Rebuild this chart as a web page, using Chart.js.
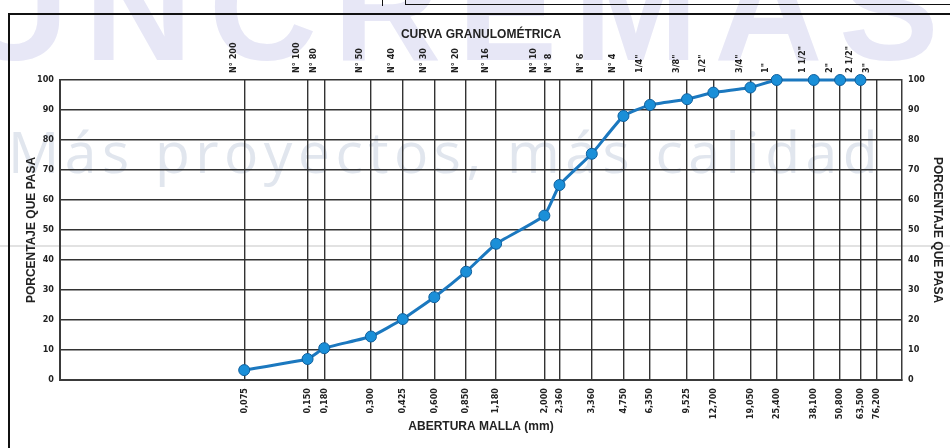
<!DOCTYPE html>
<html>
<head>
<meta charset="utf-8">
<script src="https://cdn.jsdelivr.net/npm/chart.js@4.4.1/dist/chart.umd.min.js"></script>
<style>
  html, body { margin: 0; padding: 0; background: #ffffff; }
  #wrap { position: relative; width: 950px; height: 448px; overflow: hidden; background: #fff; }
  .wm1 { position: absolute; left: -40px; top: -78px; font: 900 150px 'Liberation Sans', Arial, sans-serif; letter-spacing: 16px; color: #e7e7f6; white-space: nowrap; }
  .wm2 { position: absolute; left: 8px; top: 112px; font: 400 57px 'Open Sans', 'Liberation Sans', sans-serif; color: #e1e6ee; white-space: nowrap; letter-spacing: 5.5px; }
  .ln { position: absolute; background: #111; }
  canvas { position: absolute; left: 0; top: 0; }
</style>
</head>
<body>
<div id="wrap">
  <div class="wm1">UNCREMAS</div>
  <div class="wm2">Más proyectos, más calidad</div>
  <div class="ln" style="left:0;top:245px;width:950px;height:2px;background:#e2e2e2"></div>
  <div class="ln" style="left:8px;top:13px;width:942px;height:2px"></div>
  <div class="ln" style="left:8px;top:13px;width:2px;height:440px"></div>
  <div class="ln" style="left:405px;top:4px;width:545px;height:1px"></div>
  <div class="ln" style="left:382px;top:0;width:1px;height:6px"></div>
  <div class="ln" style="left:405px;top:0;width:1px;height:5px"></div>
  <canvas id="c" width="950" height="448"></canvas>
</div>
<script>
// ---- data ----
const sieveNames = ["N° 200","N° 100","N° 80","N° 50","N° 40","N° 30","N° 20","N° 16","N° 10","N° 8","N° 6","N° 4","1/4\"","3/8\"","1/2\"","3/4\"","1\"","1 1/2\"","2\"","2 1/2\"","3\""];
const sieveMm = [0.075,0.150,0.180,0.300,0.425,0.600,0.850,1.180,2.000,2.360,3.360,4.750,6.350,9.525,12.700,19.050,25.400,38.100,50.800,63.500,76.200];
const sieveLabels = ["0,075","0,150","0,180","0,300","0,425","0,600","0,850","1,180","2,000","2,360","3,360","4,750","6,350","9,525","12,700","19,050","25,400","38,100","50,800","63,500","76,200"];
const passingMm = [0.075,0.150,0.180,0.300,0.425,0.600,0.850,1.180,2.000,2.360,3.360,4.750,6.350,9.525,12.700,19.050,25.400,38.100,50.800,63.500];
const passingPct = [3.3,7.0,10.6,14.5,20.3,27.6,36.1,45.4,54.8,65.0,75.4,88.0,91.7,93.6,95.8,97.5,100,100,100,100];
const yTicks = [0,10,20,30,40,50,60,70,80,90,100];

const tickFont = { family: "'Liberation Sans Narrow','DejaVu Sans Condensed','Liberation Sans',sans-serif", size: 9, weight: 'bold' };
const titleFont = { family: "'Liberation Sans',Arial,sans-serif", size: 12, weight: 'bold' };
const gridColor = '#333333';

function sieveTicks(s) { s.ticks = sieveMm.map(v => ({ value: v })); }
function labelFor(arr) { return (v) => { const i = sieveMm.indexOf(v); return i >= 0 ? arr[i] : ''; }; }

new Chart(document.getElementById('c'), {
  type: 'line',
  data: {
    datasets: [{
      data: passingMm.map((x, i) => ({ x: x, y: passingPct[i] })),
      borderColor: '#1b78bf',
      borderWidth: 3,
      pointRadius: 5.5,
      pointBackgroundColor: '#1a8fd8',
      pointBorderColor: '#0f5f9c',
      pointBorderWidth: 1,
      tension: 0.12,
      clip: false,
      xAxisID: 'x',
      yAxisID: 'y'
    }]
  },
  options: {
    responsive: false,
    animation: false,
    events: [],
    layout: { padding: 0 },
    plugins: { legend: { display: false }, tooltip: { enabled: false }, title: { display: false } },
    scales: {
      x: {
        type: 'logarithmic', position: 'bottom', min: 0.01, max: 100,
        afterBuildTicks: sieveTicks,
        afterFit: s => { s.height = 68; },
        grid: { color: gridColor, lineWidth: 1.4, drawTicks: false },
        border: { color: '#3a3a3a', width: 2 },
        ticks: { autoSkip: false, minRotation: 90, maxRotation: 90, padding: 8, color: '#222', font: tickFont, callback: labelFor(sieveLabels) },
        title: { display: true, text: 'ABERTURA MALLA (mm)', color: '#222', font: titleFont, padding: { top: 0, bottom: 14 } }
      },
      x2: {
        type: 'logarithmic', position: 'top', min: 0.01, max: 100,
        afterBuildTicks: sieveTicks,
        afterFit: s => { s.height = 80; },
        grid: { display: false, drawTicks: false },
        border: { display: false },
        ticks: { autoSkip: false, minRotation: 90, maxRotation: 90, padding: 7, color: '#222', font: tickFont, callback: labelFor(sieveNames) },
        title: { display: true, text: 'CURVA GRANULOMÉTRICA', color: '#222', font: titleFont, padding: { top: 27, bottom: 0 } }
      },
      y: {
        type: 'linear', position: 'left', min: 0, max: 100,
        afterBuildTicks: s => { s.ticks = yTicks.map(v => ({ value: v })); },
        afterFit: s => { s.width = 60; },
        grid: { color: gridColor, lineWidth: 1.4, drawTicks: false },
        border: { color: '#3a3a3a', width: 2 },
        ticks: { padding: 6, color: '#222', font: tickFont },
        title: { display: true, text: 'PORCENTAJE QUE PASA', color: '#222', font: titleFont, padding: { top: 24, bottom: 0 } }
      },
      y2: {
        type: 'linear', position: 'right', min: 0, max: 100,
        afterBuildTicks: s => { s.ticks = yTicks.map(v => ({ value: v })); },
        afterFit: s => { s.width = 48; },
        grid: { display: false, drawTicks: false },
        border: { color: '#3a3a3a', width: 1.5 },
        ticks: { padding: 6, color: '#222', font: tickFont },
        title: { display: true, text: 'PORCENTAJE QUE PASA', color: '#222', font: titleFont, padding: { top: 5, bottom: 0 } }
      }
    }
  }
});
</script>
</body>
</html>
